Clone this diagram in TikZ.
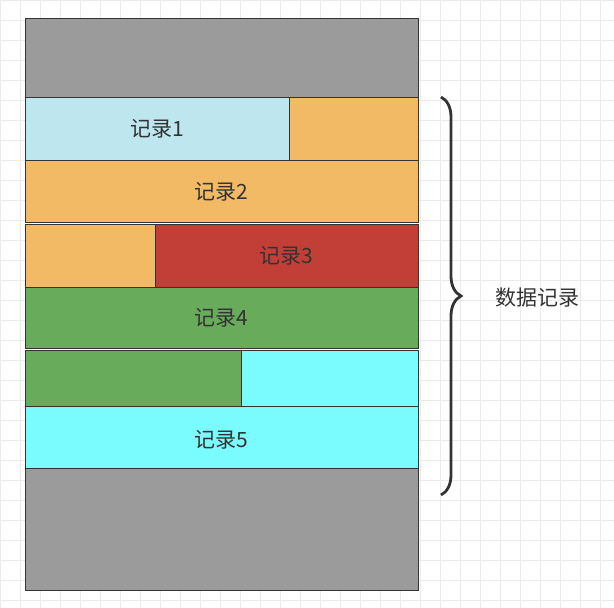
\documentclass[tikz,border=0pt]{standalone}
\usepackage{fontspec}
\setmainfont{Noto Sans CJK SC}
\usetikzlibrary{decorations.pathreplacing}
\definecolor{gr}{HTML}{9B9B9B}
\definecolor{lb}{HTML}{BEE6EE}
\definecolor{og}{HTML}{F2BA64}
\definecolor{rd}{HTML}{C23F37}
\definecolor{gn}{HTML}{67AB5B}
\definecolor{cy}{HTML}{7AFCFE}
\definecolor{tx}{HTML}{333333}
\tikzset{cell/.style={draw=tx,line width=1pt},
lbl/.style={text=tx,font=\fontsize{21}{21}\selectfont},
gridl/.style={black!8,line width=0.6pt}}
\begin{document}
\begin{tikzpicture}[x=1pt,y=-1pt]
\useasboundingbox (0,0) rectangle (614,608);
\foreach \i in {0,20,...,600} {\draw[gridl] (\i,0) -- (\i,608);}
\foreach \j in {0,20,...,600} {\draw[gridl] (0,\j) -- (614,\j);}
\fill[white] (25,18) rectangle (418,590);
\draw[cell,fill=gr] (25,18) rectangle (418,97);
\draw[cell,fill=lb] (25,97) rectangle (289,160);
\draw[cell,fill=og] (289,97) rectangle (418,160);
\draw[cell,fill=og] (25,160) rectangle (418,222);
\draw[cell,fill=og] (25,224) rectangle (155,287);
\draw[cell,fill=rd] (155,224) rectangle (418,287);
\draw[cell,fill=gn] (25,287) rectangle (418,348);
\draw[cell,fill=gn] (25,350) rectangle (241,406);
\draw[cell,fill=cy] (241,350) rectangle (418,406);
\draw[cell,fill=cy] (25,406) rectangle (418,468);
\draw[cell,fill=gr] (25,468) rectangle (418,590);
\node[lbl] (r1) at (157,129) {记录1};
\node[lbl] (r2) at (221,192) {记录2};
\node[lbl] (r3) at (286,256) {记录3};
\node[lbl] (r4) at (221,318) {记录4};
\node[lbl] (r5) at (221,440) {记录5};
\coordinate (bt) at (441,97);
\coordinate (bb) at (441,495);
\draw[tx,line width=2.8pt,decorate,decoration={brace,amplitude=20pt,aspect=0.5}] (bt) -- (bb);
\node[lbl,anchor=west] (dl) at (492,298) {数据记录};
\end{tikzpicture}
\end{document}
